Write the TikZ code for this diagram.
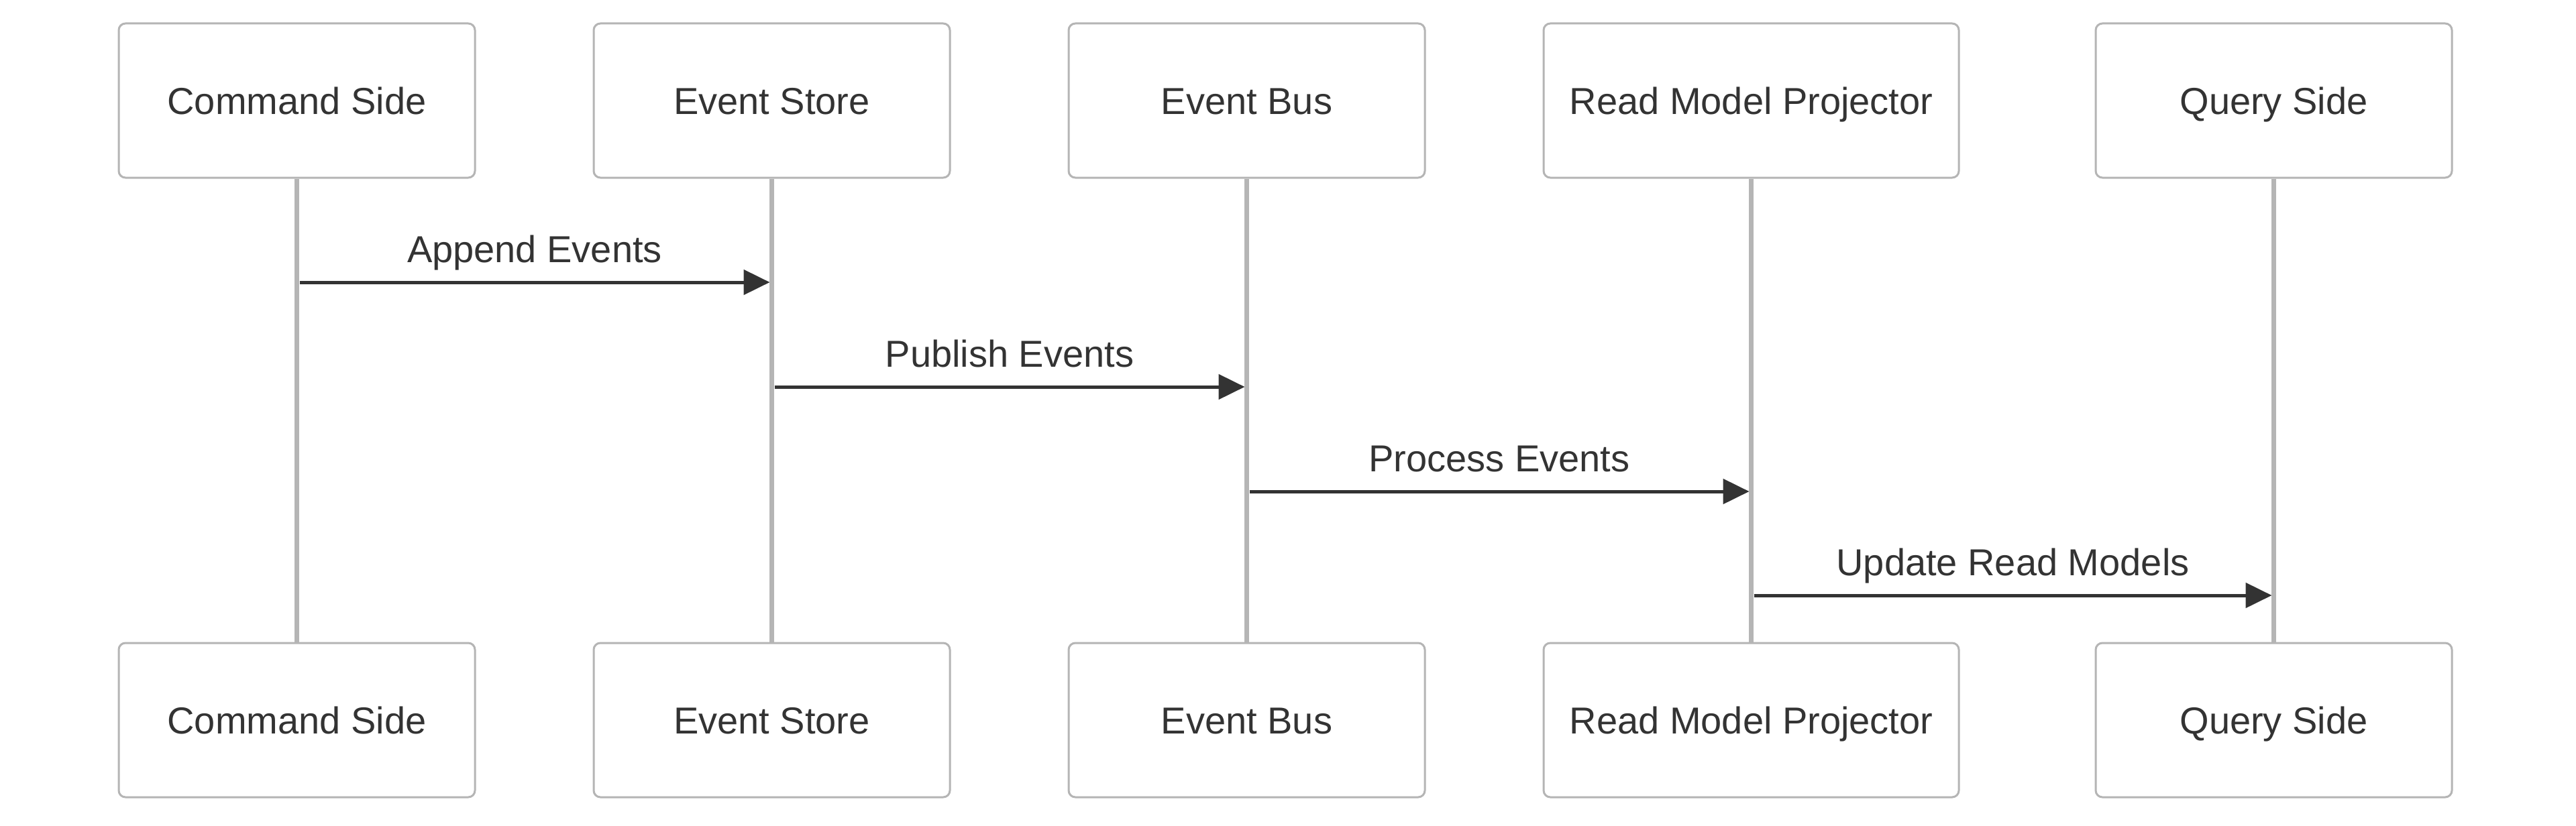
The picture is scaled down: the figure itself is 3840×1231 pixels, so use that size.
\documentclass[tikz,border=0pt]{standalone}
\usepackage{fontspec}
\setmainfont{Liberation Sans}
\usetikzlibrary{arrows.meta,calc}
\definecolor{boxgray}{HTML}{B5B5B5}
\definecolor{ink}{HTML}{333333}
\begin{document}
\begin{tikzpicture}[x=1pt,y=-1pt,
  actorbox/.style={draw=boxgray,line width=3pt,fill=white,rounded corners=10pt,
    minimum width=531pt,minimum height=230pt,inner sep=0pt,text=ink,
    text height=40pt,text depth=0pt,font=\fontsize{56pt}{67pt}\selectfont},
  lifeline/.style={draw=boxgray,line width=7pt},
  msg/.style={draw=ink,line width=5pt,-{Triangle[length=39pt,width=37pt]}},
  msglabel/.style={text=ink,font=\fontsize{56pt}{67pt}\selectfont,anchor=base,inner sep=0pt,yshift=30pt}]
\useasboundingbox[fill=white] (0,0) rectangle (3840,1231);
% top actors
\node[actorbox] (cs) at (442.5,150) {Command Side};
\node[actorbox] (es) at (1150.5,150) {Event Store};
\node[actorbox] (eb) at (1858.5,150) {Event Bus};
\node[actorbox,minimum width=619pt] (rm) at (2610.5,150) {Read Model Projector};
\node[actorbox] (qs) at (3389.5,150) {Query Side};
% bottom actors
\node[actorbox] (csb) at (442.5,1074) {Command Side};
\node[actorbox] (esb) at (1150.5,1074) {Event Store};
\node[actorbox] (ebb) at (1858.5,1074) {Event Bus};
\node[actorbox,minimum width=619pt] (rmb) at (2610.5,1074) {Read Model Projector};
\node[actorbox] (qsb) at (3389.5,1074) {Query Side};
% lifelines
\draw[lifeline] (cs.south) -- (csb.north);
\draw[lifeline] (es.south) -- (esb.north);
\draw[lifeline] (eb.south) -- (ebb.north);
\draw[lifeline] (rm.south) -- (rmb.north);
\draw[lifeline] (qs.south) -- (qsb.north);
% message end points
\coordinate (m1a) at ($(cs.south|-0,421)+(4,0)$);
\coordinate (m1b) at ($(es.south|-0,421)+(-3,0)$);
\coordinate (m2a) at ($(es.south|-0,577)+(4,0)$);
\coordinate (m2b) at ($(eb.south|-0,577)+(-3,0)$);
\coordinate (m3a) at ($(eb.south|-0,733)+(4,0)$);
\coordinate (m3b) at ($(rm.south|-0,733)+(-3,0)$);
\coordinate (m4a) at ($(rm.south|-0,888)+(4,0)$);
\coordinate (m4b) at ($(qs.south|-0,888)+(-3,0)$);
% messages
\draw[msg] (m1a) -- node[msglabel] {Append Events} (m1b);
\draw[msg] (m2a) -- node[msglabel] {Publish Events} (m2b);
\draw[msg] (m3a) -- node[msglabel] {Process Events} (m3b);
\draw[msg] (m4a) -- node[msglabel] {Update Read Models} (m4b);
\end{tikzpicture}
\end{document}
